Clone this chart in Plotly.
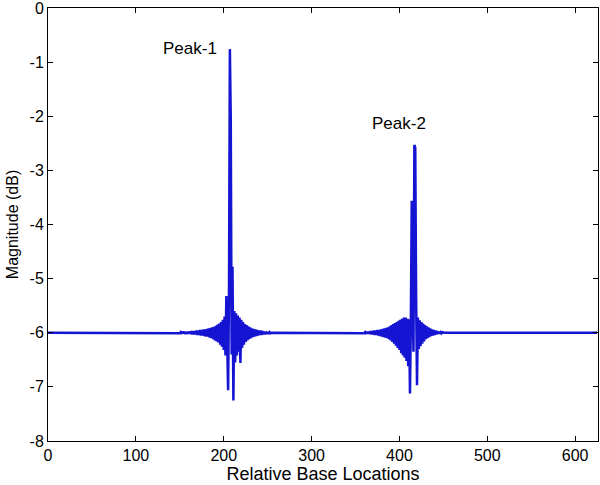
import plotly.graph_objects as go

# ---- data ----
n_points = 626
baseline_db = -6.0

peak1_start = 150
peak1_vals = [
    -6.01, -5.99, -6.02, -5.98, -6.01, -5.98, -6.02, -5.99, -6.02, -5.98,
    -6.02, -5.98, -6.02, -5.97, -6.03, -5.97, -6.03, -5.97, -6.03, -5.96,
    -6.04, -5.96, -6.04, -5.95, -6.05, -5.95, -6.05, -5.94, -6.06, -5.94,
    -6.07, -5.93, -6.07, -5.92, -6.09, -5.91, -6.10, -5.90, -6.12, -5.89,
    -6.14, -5.87, -6.16, -5.85, -6.18, -5.83, -6.22, -5.80, -6.26, -5.76,
    -6.32, -5.70, -6.42, -5.32, -6.60, -7.06, -5.30,
    -0.76, -2.03, -6.40, -4.78, -7.25,
    -5.60, -6.55, -5.64, -6.42, -5.68, -6.35, -5.72, -6.56,
    -5.76, -6.28, -5.80, -6.22, -5.84, -6.17, -5.86, -6.14, -5.88, -6.12,
    -5.90, -6.10, -5.92, -6.08, -5.93, -6.07, -5.94, -6.06, -5.95, -6.05,
    -5.96, -6.04, -5.96, -6.04, -5.97, -6.03, -5.98, -6.03, -5.98, -6.02,
    -5.99, -6.02, -5.99, -6.01, -6.00, -6.00,
]

peak2_start = 360
peak2_vals = [
    -6.01, -5.99, -6.02, -5.98, -6.02, -5.98, -6.02, -5.97, -6.03, -5.97,
    -6.03, -5.96, -6.04, -5.96, -6.04, -5.95, -6.05, -5.95, -6.06, -5.94,
    -6.07, -5.93, -6.08, -5.92, -6.09, -5.91, -6.10, -5.90, -6.12, -5.88,
    -6.14, -5.86, -6.17, -5.84, -6.20, -5.82, -6.24, -5.80, -6.28, -5.78,
    -6.32, -5.76, -6.38, -5.74, -6.42, -5.72, -6.46, -5.72, -6.52, -5.74,
    -6.62, -5.75, -7.12, -5.78, -3.56, -5.50, -6.35, -2.53, -2.58, -5.35,
    -6.97, -5.72,
    -6.30, -5.77, -6.25, -5.80, -6.20, -5.83, -6.16, -5.86, -6.12, -5.88,
    -6.10, -5.90, -6.08, -5.92, -6.06, -5.94, -6.05, -5.95, -6.04, -5.96,
    -6.03, -5.97, -6.02, -5.98, -6.02, -5.99, -6.01, -5.99, -6.00, -6.00,
]

x_ticks = [0, 100, 200, 300, 400, 500, 600]
y_ticks = [0, -1, -2, -3, -4, -5, -6, -7, -8]
peak_labels = ["Peak-1", "Peak-2"]
peak_label_x = [162, 399]
peak_label_y = [-0.74, -2.13]

# ---- build series ----
x = list(range(n_points))
mag = [baseline_db] * n_points
for i, v in enumerate(peak1_vals):
    mag[peak1_start + i] = v
for i, v in enumerate(peak2_vals):
    mag[peak2_start + i] = v

font_family = "Liberation Sans, Arial, sans-serif"

fig = go.Figure()
fig.add_trace(go.Scatter(
    x=x, y=mag, mode="lines",
    line=dict(color="#1414d2", width=2.5),
    showlegend=False, hoverinfo="skip",
))

for t, px, py in zip(peak_labels, peak_label_x, peak_label_y):
    fig.add_annotation(x=px, y=py, text=t, showarrow=False,
                       font=dict(size=17, color="black", family=font_family))

axis_common = dict(
    showline=True, linecolor="black", linewidth=1,
    mirror="ticks", ticks="inside", ticklen=5, tickcolor="black",
    showgrid=False, zeroline=False, automargin=False,
    ticklabeloverflow="allow",
    tickfont=dict(size=16, color="black", family=font_family),
)

fig.update_xaxes(range=[0, 626], tickvals=x_ticks,
                 ticktext=[str(v) for v in x_ticks],
                 title=dict(text="Relative Base Locations", standoff=2,
                            font=dict(size=18, color="black", family=font_family)),
                 **axis_common)
fig.update_yaxes(range=[-8, 0], tickvals=y_ticks,
                 ticktext=[str(v) for v in y_ticks],
                 title=dict(text="Magnitude (dB)", standoff=6,
                            font=dict(size=16, color="black", family=font_family)),
                 **axis_common)

fig.update_layout(
    width=600, height=485,
    margin=dict(l=48, r=2, t=8, b=44),
    paper_bgcolor="white", plot_bgcolor="white",
)

fig.write_html("out.html",
               config={"displayModeBar": False},
               post_script="document.body.style.margin='0';document.body.style.padding='0';")
